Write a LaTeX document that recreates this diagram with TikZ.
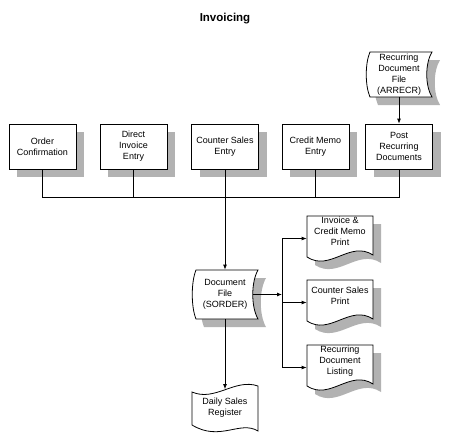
\documentclass[tikz,border=0pt]{standalone}
\usepackage{fontspec}
\setmainfont{Liberation Sans}
\usetikzlibrary{calc,arrows.meta}

% stored data file: name, centre, half height, text
\newcommand{\storedfile}[4]{%
  \begin{scope}[shift={#2}]
    \fill[halftone, shift={(8,8)}] (-29,-#3) -- (33,-#3) .. controls (26,-#3/2) and (26,#3/2) .. (33,#3) -- (-29,#3) .. controls (-34,#3/2) and (-34,-#3/2) .. (-29,-#3) -- cycle;
    \draw[fill=white] (-29,-#3) -- (33,-#3) .. controls (26,-#3/2) and (26,#3/2) .. (33,#3) -- (-29,#3) .. controls (-34,#3/2) and (-34,-#3/2) .. (-29,-#3) -- cycle;
  \end{scope}
  \node[filenode, minimum height={2*#3pt}] (#1) at #2 {#4};
}
% printed document: name, centre, text shift, text
\newcommand{\printdoc}[4]{%
  \begin{scope}[shift={#2}]
    \fill[halftone, shift={(8,8)}] (-33,-22.5) -- (33,-22.5) -- (33,16.5) .. controls (10,1.5) and (-10,33.5) .. (-33,18.5) -- cycle;
    \draw[fill=white] (-33,-22.5) -- (33,-22.5) -- (33,16.5) .. controls (10,1.5) and (-10,33.5) .. (-33,18.5) -- cycle;
  \end{scope}
  \node[docnode, label={[boxtext, yshift=#3]center:{#4}}] (#1) at #2 {};
}
% punched tape: name, centre, text
\newcommand{\tapedoc}[3]{%
  \begin{scope}[shift={#2}]
    \draw[fill=white] (-33,-16) .. controls (-10,-6) and (10,-30) .. (33,-22) -- (33,23) .. controls (15,12) and (-5,34) .. (-33,17) -- cycle;
  \end{scope}
  \node[tapenode] (#1) at #2 {#3};
}

\begin{document}
\begin{tikzpicture}[x=1pt, y=-1pt, line width=.8pt,
  halftone/.style={fill=black!30},
  boxtext/.style={font=\fontsize{9}{11}\selectfont, align=center, inner sep=0pt},
  process/.style={boxtext, draw, fill=white, minimum width=67pt, minimum height=45pt},
  filenode/.style={boxtext, minimum width=66pt},
  docnode/.style={minimum width=66pt, minimum height=45pt, inner sep=0pt},
  tapenode/.style={boxtext, minimum width=66pt, minimum height=37pt},
  flow/.style={-{Latex[length=5pt,width=4pt]}}]
  \useasboundingbox (0,0) rectangle (455,439);

  \node[font=\fontsize{11.5}{14}\selectfont\bfseries] (title) at (225,19) {Invoicing};

  \storedfile{rdf}{(399,74.5)}{22.5}{Recurring\\Document\\File\\(ARRECR)}

  % shadows of the process boxes
  \foreach \cx in {42.5,133.5,225,315.5,399}
    \fill[halftone] (\cx-25.5,132) rectangle (\cx+41.5,177);

  \node[process] (oc) at (42.5,146.5) {Order\\Confirmation};
  \node[process] (di) at (133.5,146.5) {Direct\\Invoice\\Entry};
  \node[process] (cs) at (225,146.5) {Counter Sales\\Entry};
  \node[process] (cm) at (315.5,146.5) {Credit Memo\\Entry};
  \node[process] (pr) at (399,146.5) {Post\\Recurring\\Documents};

  \coordinate (bus) at (0,197);
  \draw[flow] (rdf.south) -- (pr.north);
  \draw (oc.south) -- (oc.south |- bus) -- (pr.south |- bus) -- (pr.south);
  \draw (di.south) -- (di.south |- bus);
  \draw (cm.south) -- (cm.south |- bus);

  \storedfile{df}{(225,294.5)}{24.5}{Document\\File\\(SORDER)}
  \draw[flow] (cs.south) -- (df.north);

  \printdoc{ic}{(340,238.5)}{7pt}{Invoice \&\\Credit Memo\\Print}
  \printdoc{csp}{(340,302.5)}{6.5pt}{Counter Sales\\Print}
  \printdoc{rdl}{(340,367.5)}{6.5pt}{Recurring\\Document\\Listing}

  \coordinate (dfout) at ($(df.east)+(-5,0)$);
  \coordinate (branch) at (282,294.5);
  \draw[flow] (dfout) -- (branch);
  \draw (branch |- ic.west) -- (branch |- rdl.west);
  \draw[flow] (branch |- ic.west) -- (ic.west);
  \draw[flow] (branch |- csp.west) -- (csp.west);
  \draw[flow] (branch |- rdl.west) -- (rdl.west);

  \tapedoc{dsr}{(225,408)}{Daily Sales\\Register}
  \draw[flow] (df.south) -- (dsr.north);
\end{tikzpicture}
\end{document}
